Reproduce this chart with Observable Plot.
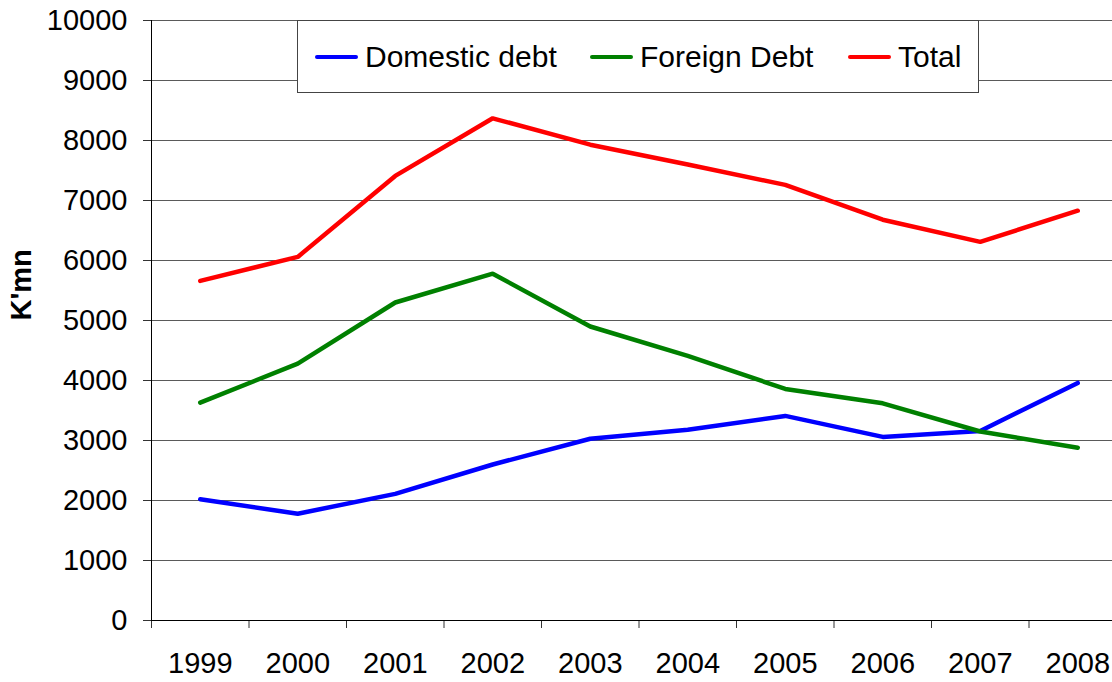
<!DOCTYPE html>
<html>
<head>
<meta charset="utf-8">
<script src="https://cdn.jsdelivr.net/npm/d3@7"></script>
<script src="https://cdn.jsdelivr.net/npm/@observablehq/plot@0.6"></script>
<style>
  html, body { margin: 0; padding: 0; overflow: hidden; background: #fff; }
  #wrap { position: relative; width: 1112px; height: 682px; overflow: hidden; font-family: "Liberation Sans", Arial, sans-serif; }
  #wrap svg { max-width: none !important; display: block; }
  #legend { position: absolute; left: 297px; top: 20px; width: 680px; height: 71px; border: 1px solid #444; background: #fff; box-sizing: content-box; }
  .item { position: absolute; top: 0; height: 71px; display: flex; align-items: center; font-size: 30px; color: #000; white-space: nowrap; }
  .sw { display: inline-block; width: 43px; height: 4px; border-radius: 2px; margin-right: 7px; }
</style>
</head>
<body>
<div id="wrap"></div>
<script>
const years = [1999, 2000, 2001, 2002, 2003, 2004, 2005, 2006, 2007, 2008];
const domesticDebt = [2020, 1780, 2110, 2600, 3030, 3180, 3410, 3060, 3160, 3960];
const foreignDebt = [3630, 4280, 5300, 5780, 4900, 4410, 3860, 3620, 3150, 2880];
const totalDebt = [5660, 6060, 7410, 8370, 7930, 7600, 7260, 6680, 6310, 6830];
const seriesNames = ["Domestic debt", "Foreign Debt", "Total"];
const seriesColors = ["#0000ff", "#008000", "#ff0000"];
const yLabel = "K'mn";

const seriesValues = [domesticDebt, foreignDebt, totalDebt];
const table = [];
seriesNames.forEach((name, i) => {
  years.forEach((yr, j) => table.push({year: yr, value: seriesValues[i][j], series: name}));
});
const boundaries = years.map(y => y - 0.5).concat([years[years.length - 1] + 0.5]);

const chart = Plot.plot({
  width: 1126,
  height: 682,
  marginLeft: 151,
  marginRight: 0,
  marginTop: 20,
  marginBottom: 62,
  style: {fontFamily: '"Liberation Sans", Arial, sans-serif', fontSize: "29px", color: "#000", background: "#fff", maxWidth: "none"},
  x: {type: "linear", domain: [boundaries[0], boundaries[boundaries.length - 1]]},
  y: {domain: [0, 10000]},
  color: {domain: seriesNames, range: seriesColors},
  marks: [
    Plot.gridY({ticks: 10, stroke: "#5a5a5a", strokeOpacity: 1, strokeWidth: 1}),
    Plot.axisY({ticks: 10, tickSize: 8, tickPadding: 16, tickFormat: "d", label: null, stroke: "#333", fontSize: 29}),
    Plot.axisX(boundaries, {tickSize: 8, tickFormat: () => "", label: null, stroke: "#333"}),
    Plot.axisX(years, {tickSize: 0, tickPadding: 32, tickFormat: d => String(d), label: null, fontSize: 29}),
    Plot.ruleY([0], {stroke: "#000", strokeWidth: 1}),
    Plot.ruleX([boundaries[0]], {stroke: "#000", strokeWidth: 1}),
    Plot.line(table, {x: "year", y: "value", z: "series", stroke: "series", strokeWidth: 4.5, strokeLinejoin: "miter"}),
    Plot.text([yLabel], {frameAnchor: "left", dx: -130, rotate: -90, text: d => d, fontSize: 29, fontWeight: "bold", fill: "#000"})
  ]
});

const wrap = document.getElementById("wrap");
wrap.appendChild(chart);

const legend = document.createElement("div");
legend.id = "legend";
const itemLefts = [17, 292, 550];
seriesNames.forEach((name, i) => {
  const it = document.createElement("div");
  it.className = "item";
  it.style.left = itemLefts[i] + "px";
  const sw = document.createElement("span");
  sw.className = "sw";
  sw.style.background = seriesColors[i];
  it.appendChild(sw);
  it.appendChild(document.createTextNode(name));
  legend.appendChild(it);
});
wrap.appendChild(legend);
</script>
</body>
</html>
